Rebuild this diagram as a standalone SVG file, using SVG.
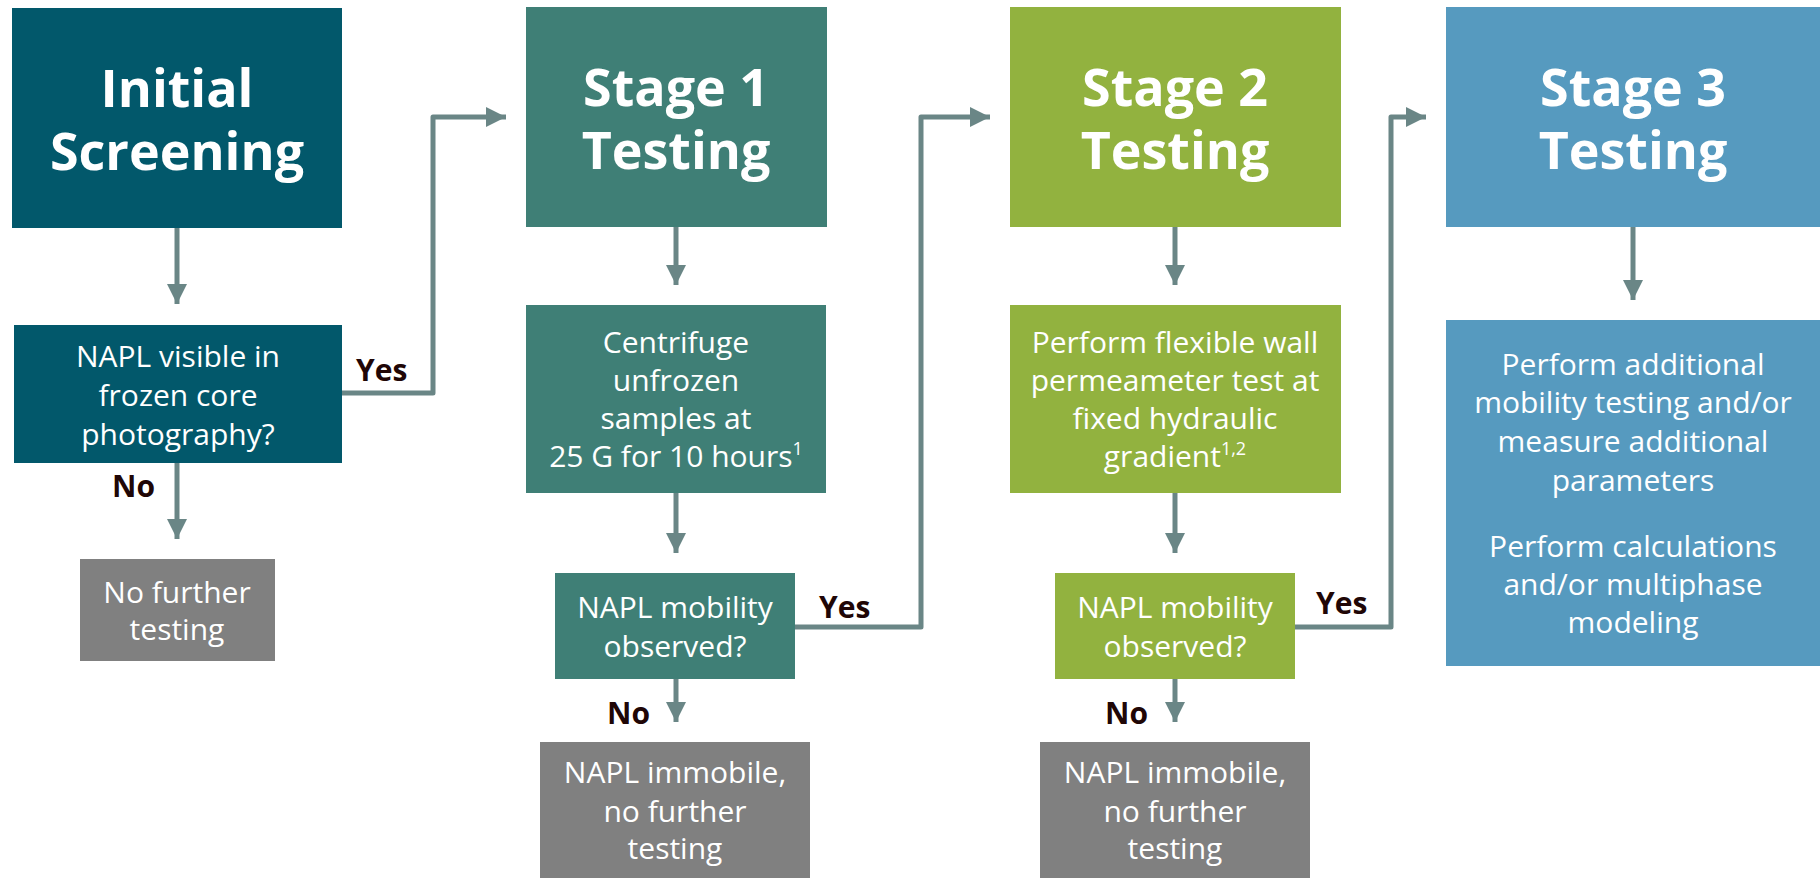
<svg xmlns="http://www.w3.org/2000/svg" width="1820" height="878" viewBox="0 0 1820 878">
<style>
.title{font-family:"Open Sans","Noto Sans",sans-serif;font-weight:700;font-size:52px;fill:#fff;text-anchor:middle}
.body{font-family:"Open Sans","Noto Sans",sans-serif;font-size:30px;fill:#fff;text-anchor:middle}
.lbl{font-family:"Open Sans","Noto Sans",sans-serif;font-weight:700;font-size:30px;fill:#200606}
.sup{font-size:18px}
.conn{fill:none;stroke:#6A8686;stroke-width:5;stroke-linejoin:round}
</style>
<defs>
<marker id="arr" markerWidth="4" markerHeight="4" refX="4" refY="2" orient="auto" markerUnits="strokeWidth">
<path d="M0,0 L4,2 L0,4 Z" fill="#6A8686"/>
</marker>
</defs>
<rect width="1820" height="878" fill="#fff"/>
<g id="connectors">
<path class="conn" d="M177,228 V304" marker-end="url(#arr)"/>
<path class="conn" d="M177,463 V539" marker-end="url(#arr)"/>
<path class="conn" d="M342,393 H433 V117 H506" marker-end="url(#arr)"/>
<path class="conn" d="M676,227 V285" marker-end="url(#arr)"/>
<path class="conn" d="M676,493 V553" marker-end="url(#arr)"/>
<path class="conn" d="M676,679 V722" marker-end="url(#arr)"/>
<path class="conn" d="M794,627 H921 V117 H990" marker-end="url(#arr)"/>
<path class="conn" d="M1175,227 V285" marker-end="url(#arr)"/>
<path class="conn" d="M1175,493 V553" marker-end="url(#arr)"/>
<path class="conn" d="M1175,679 V722" marker-end="url(#arr)"/>
<path class="conn" d="M1295,627 H1391 V117 H1426" marker-end="url(#arr)"/>
<path class="conn" d="M1633,227 V300" marker-end="url(#arr)"/>
<text class="lbl" x="356" y="381">Yes</text>
<text class="lbl" x="112" y="497">No</text>
<text class="lbl" x="819" y="618">Yes</text>
<text class="lbl" x="607" y="724">No</text>
<text class="lbl" x="1316" y="614">Yes</text>
<text class="lbl" x="1105" y="724">No</text>
</g>
<g id="initial-screening">
<rect x="12" y="8" width="330" height="220" fill="#02586B"/>
<text class="title" x="177" y="107">Initial</text>
<text class="title" x="177" y="170">Screening</text>
</g>
<g id="napl-visible">
<rect x="14" y="325" width="328" height="138" fill="#02586B"/>
<text class="body" x="178" y="367">NAPL visible in</text>
<text class="body" x="178" y="406">frozen core</text>
<text class="body" x="178" y="445">photography?</text>
</g>
<g id="no-further-testing">
<rect x="80" y="559" width="195" height="102" fill="#808080"/>
<text class="body" x="177" y="603">No further</text>
<text class="body" x="177" y="640">testing</text>
</g>
<g id="stage1">
<rect x="526" y="7" width="301" height="220" fill="#3F7F76"/>
<text class="title" x="676" y="106">Stage 1</text>
<text class="title" x="676" y="169">Testing</text>
</g>
<g id="centrifuge">
<rect x="526" y="305" width="300" height="188" fill="#3F7F76"/>
<text class="body" x="676" y="353">Centrifuge</text>
<text class="body" x="676" y="391">unfrozen</text>
<text class="body" x="676" y="429">samples at</text>
<text class="body" x="676" y="467">25 G for 10 hours<tspan class="sup" dy="-12">1</tspan></text>
</g>
<g id="mobility1">
<rect x="555" y="573" width="240" height="106" fill="#3F7F76"/>
<text class="body" x="675" y="618">NAPL mobility</text>
<text class="body" x="675" y="657">observed?</text>
</g>
<g id="immobile1">
<rect x="540" y="742" width="270" height="136" fill="#808080"/>
<text class="body" x="675" y="783">NAPL immobile,</text>
<text class="body" x="675" y="822">no further</text>
<text class="body" x="675" y="859">testing</text>
</g>
<g id="stage2">
<rect x="1010" y="7" width="331" height="220" fill="#92B23F"/>
<text class="title" x="1175" y="106">Stage 2</text>
<text class="title" x="1175" y="169">Testing</text>
</g>
<g id="permeameter">
<rect x="1010" y="305" width="331" height="188" fill="#92B23F"/>
<text class="body" x="1175" y="353">Perform flexible wall</text>
<text class="body" x="1175" y="391">permeameter test at</text>
<text class="body" x="1175" y="429">fixed hydraulic</text>
<text class="body" x="1175" y="467">gradient<tspan class="sup" dy="-12">1,2</tspan></text>
</g>
<g id="mobility2">
<rect x="1055" y="573" width="240" height="106" fill="#92B23F"/>
<text class="body" x="1175" y="618">NAPL mobility</text>
<text class="body" x="1175" y="657">observed?</text>
</g>
<g id="immobile2">
<rect x="1040" y="742" width="270" height="136" fill="#808080"/>
<text class="body" x="1175" y="783">NAPL immobile,</text>
<text class="body" x="1175" y="822">no further</text>
<text class="body" x="1175" y="859">testing</text>
</g>
<g id="stage3">
<rect x="1446" y="7" width="374" height="220" fill="#569ABF"/>
<text class="title" x="1633" y="106">Stage 3</text>
<text class="title" x="1633" y="169">Testing</text>
</g>
<g id="additional">
<rect x="1446" y="320" width="374" height="346" fill="#569ABF"/>
<text class="body" x="1633" y="375">Perform additional</text>
<text class="body" x="1633" y="413">mobility testing and/or</text>
<text class="body" x="1633" y="452">measure additional</text>
<text class="body" x="1633" y="491">parameters</text>
<text class="body" x="1633" y="557">Perform calculations</text>
<text class="body" x="1633" y="595">and/or multiphase</text>
<text class="body" x="1633" y="633">modeling</text>
</g>
</svg>
